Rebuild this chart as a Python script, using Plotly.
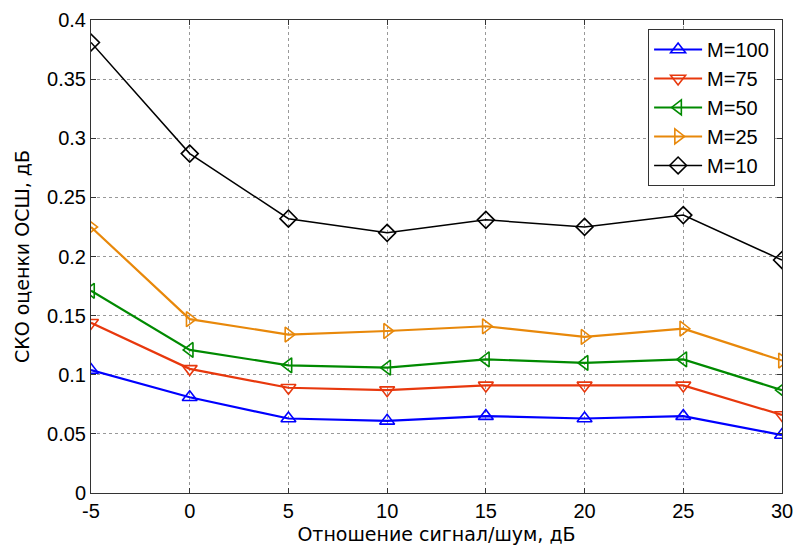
import plotly.graph_objects as go

snr = [-5, 0, 5, 10, 15, 20, 25, 30]
m100 = [0.104, 0.081, 0.063, 0.061, 0.065, 0.063, 0.065, 0.049]
m75 = [0.144, 0.105, 0.089, 0.087, 0.091, 0.091, 0.091, 0.066]
m50 = [0.171, 0.121, 0.108, 0.106, 0.113, 0.110, 0.113, 0.087]
m25 = [0.225, 0.147, 0.134, 0.137, 0.141, 0.132, 0.139, 0.112]
m10 = [0.381, 0.287, 0.232, 0.220, 0.231, 0.225, 0.235, 0.197]
x_ticks = ["-5", "0", "5", "10", "15", "20", "25", "30"]
y_tickvals = [0, 0.05, 0.1, 0.15, 0.2, 0.25, 0.3, 0.35, 0.4]
y_ticks = ["0", "0.05", "0.1", "0.15", "0.2", "0.25", "0.3", "0.35", "0.4"]

series = [
    ("M=100", m100, "#0000ff", "triangle-up-open", 2.2),
    ("M=75", m75, "#e8380d", "triangle-down-open", 2.2),
    ("M=50", m50, "#008a00", "triangle-left-open", 2.2),
    ("M=25", m25, "#e8880a", "triangle-right-open", 2.2),
    ("M=10", m10, "#000000", "diamond-open", 1.5),
]

fig = go.Figure()
for name, vals, color, sym, w in series:
    fig.add_trace(go.Scatter(
        x=snr, y=vals, name=name, mode="lines+markers",
        legendgroup=name,
        line=dict(color=color, width=w),
        marker=dict(symbol=sym, size=13, color=color, line=dict(width=1.6, color=color)),
    ))

font = "Liberation Sans, Arial, sans-serif"
title_font = dict(family="DejaVu Sans, sans-serif", size=19, color="#000")
axis_common = dict(
    showline=True, linecolor="#333", linewidth=1, mirror="ticks",
    ticks="inside", ticklen=5, tickcolor="#333",
    showgrid=True, gridcolor="#999", griddash="dot", gridwidth=1,
    zeroline=False, tickfont=dict(family=font, size=20, color="#000"),
    automargin=False,
)
fig.update_xaxes(range=[-5, 30], tickvals=snr, ticktext=x_ticks,
                 title=dict(text="Отношение сигнал/шум, дБ", font=title_font, standoff=6),
                 **axis_common)
fig.update_yaxes(range=[0, 0.4], tickvals=y_tickvals, ticktext=y_ticks,
                 title=dict(text="СКО оценки ОСШ, дБ", font=title_font, standoff=12),
                 **axis_common)
fig.update_layout(
    width=796, height=546,
    margin=dict(l=91, r=14, t=20, b=53),
    paper_bgcolor="white", plot_bgcolor="white",
    showlegend=True,
    legend=dict(x=0.99, xanchor="right", y=0.981, yanchor="top",
                bgcolor="white", bordercolor="#333", borderwidth=1,
                font=dict(family=font, size=20, color="#000"),
                itemwidth=48, tracegroupgap=0),
)
fig.write_html("out.html")
